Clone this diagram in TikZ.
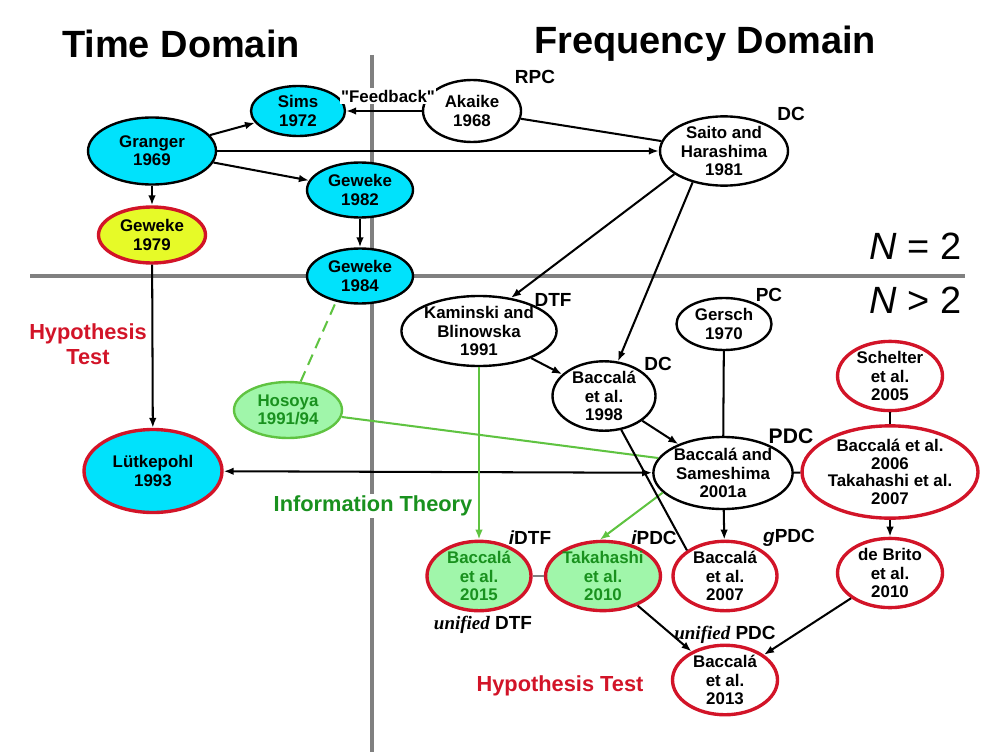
\documentclass[tikz,border=0pt]{standalone}
\usepackage{fontspec}
\setmainfont{Liberation Sans}
\newfontfamily\unifont{Liberation Serif}
\newfontfamily\plainfont{Liberation Sans}
\usetikzlibrary{arrows.meta,shapes.geometric}

\definecolor{tcyan}{RGB}{0,226,252}
\definecolor{tyellow}{RGB}{230,250,40}
\definecolor{hred}{RGB}{210,20,40}
\definecolor{igreen}{RGB}{160,246,170}
\definecolor{iline}{RGB}{95,195,65}
\definecolor{itext}{RGB}{25,145,30}
\definecolor{divgray}{RGB}{128,128,128}

\begin{document}
\begin{tikzpicture}[x=0.025cm, y=-0.025cm,
  ell/.style={ellipse, draw, line width=1.7pt, inner sep=0pt, align=center,
              font=\bfseries\fontsize{12}{13}\selectfont},
  sz/.style 2 args={minimum width=#1*0.025cm, minimum height=#2*0.025cm},
  tdom/.style={ell, fill=tcyan},
  hyp/.style={draw=hred, line width=2.4pt},
  info/.style={ell, fill=igreen, text=itext},
  lbl/.style={font=\bfseries\fontsize{13.5}{15}\selectfont, inner sep=1pt},
  hdr/.style={font=\bfseries\fontsize{27}{30}\selectfont},
  nlab/.style={font=\fontsize{27}{30}\selectfont, inner sep=0pt},
  redtxt/.style={font=\bfseries\fontsize{15.5}{18}\selectfont, text=hred, align=center},
  arr/.style={-{Latex[length=2.5mm,width=1.9mm]}, line width=1.45pt},
  biarr/.style={{Latex[length=2.5mm,width=1.9mm]}-{Latex[length=2.5mm,width=1.9mm]}, line width=1.45pt},
  garr/.style={arr, draw=iline},
  link/.style={line width=1.45pt},
  glink/.style={line width=1.45pt, draw=iline},
  divide/.style={line width=3pt, draw=divgray}
]
  \useasboundingbox (0,0) rectangle (1003,755);

  \coordinate (vtop) at (372,55);
  \coordinate (vbot) at (372,752);
  \coordinate (hleft) at (30,276);
  \coordinate (hright) at (965,276);
  \draw[divide] (vtop) -- (vbot);
  \draw[divide] (hleft) -- (hright);

  \node[hdr] (tdomain) at (181,44) {Time Domain};
  \node[hdr] (fdomain) at (705,44) {Frequency Domain};
  \node[nlab, anchor=east] (neq) at (962,246) {{\itshape N} = 2};
  \node[nlab, anchor=east] (ngt) at (962,300) {{\itshape N} > 2};

  \node[tdom, sz={128}{67}] (granger) at (152,151) {Granger\\1969};
  \node[tdom, sz={94}{50}] (sims) at (298,111) {Sims\\1972};
  \node[tdom, sz={106}{55}] (gew82) at (360,190) {Geweke\\1982};
  \node[ell, hyp, fill=tyellow, sz={107}{56}] (gew79) at (152,235) {Geweke\\1979};
  \node[tdom, sz={106}{55}] (gew84) at (360,276) {Geweke\\1984};
  \node[tdom, hyp, sz={138}{83}] (lutk) at (153,471) {Lütkepohl\\1993};
  \node[ell, draw=iline, fill=igreen, text=itext, sz={108}{56}] (hosoya) at (288,410) {Hosoya\\1991/94};

  \node[ell, sz={98}{62}] (akaike) at (472,111) {Akaike\\1968};
  \node[ell, sz={128}{68}] (saito) at (724,151) {Saito and\\Harashima\\1981};
  \node[ell, sz={116}{70}] (kam) at (479,331) {Kaminski and\\Blinowska\\1991};
  \node[ell, sz={95}{52}] (gersch) at (724,324) {Gersch\\1970};
  \node[ell, sz={103}{66}] (bac98) at (604,396) {Baccalá\\et al.\\1998};
  \node[ell, sz={113}{72}] (bs01) at (723,473) {Baccalá and\\Sameshima\\2001a};
  \node[ell, hyp, sz={105}{66}] (schelter) at (890,376) {Schelter\\et al.\\2005};
  \node[ell, hyp, sz={146}{86}, font=\bfseries\fontsize{12}{12.5}\selectfont] (bac06) at (890,472) {Baccalá et al.\\2006\\Takahashi et al.\\2007};
  \node[info, hyp, sz={104}{66}] (bac15) at (479,576) {Baccalá\\et al.\\2015};
  \node[info, hyp, sz={105}{66}] (tak10) at (603,576) {Takahashi\\et al.\\2010};
  \node[ell, hyp, sz={104}{64}] (bac07) at (725,576) {Baccalá\\et al.\\2007};
  \node[ell, hyp, sz={105}{64}] (brito) at (890,573) {de Brito\\et al.\\2010};
  \node[ell, hyp, sz={105}{66}] (bac13) at (725,680) {Baccalá\\et al.\\2013};

  \node[lbl, font=\plainfont\bfseries\fontsize{12}{13}\selectfont, fill=white] (feedback) at (388,96) {"Feedback"};
  \node[lbl] (rpc) at (535,77) {RPC};
  \node[lbl] (dc1) at (791,114) {DC};
  \node[lbl] (dtf) at (553,300) {DTF};
  \node[lbl] (dc2) at (658,364) {DC};
  \node[lbl] (pc) at (769,295) {PC};
  \node[lbl, font=\bfseries\fontsize{15}{17}\selectfont] (pdc) at (791,436) {PDC};
  \node[lbl] (idtf) at (530,538) {{\itshape i}DTF};
  \node[lbl] (ipdc) at (654,538) {{\itshape i}PDC};
  \node[lbl] (gpdc) at (789,538) {{\itshape g}PDC};
  \node[lbl] (udtf) at (483,625) {{\unifont\itshape unified} DTF};
  \node[lbl] (updc) at (725,635) {{\unifont\itshape unified} PDC};

  \node[redtxt] (hypleft) at (88,344) {Hypothesis\\Test};
  \node[redtxt] (hypbot) at (560,686) {Hypothesis Test};
  \node[redtxt, text=itext, fill=white, inner sep=1pt] (infoth) at (373,506) {Information Theory};

  \draw[arr] (granger) -- (sims);
  \draw[arr] (akaike) -- (sims);
  \draw[link] (akaike) -- (saito);
  \draw[arr] (granger) -- (saito);
  \draw[arr] (granger) -- (gew82);
  \draw[arr] (granger) -- (gew79);
  \draw[arr] (gew82) -- (gew84);
  \draw[arr] (gew79) -- (lutk);
  \draw[glink, dash pattern=on 8pt off 5pt] (hosoya.66) -- (gew84.227);
  \draw[arr] (saito.205) -- (kam.46);
  \draw[arr] (saito.225) -- (bac98.68);
  \draw[arr] (kam) -- (bac98);
  \draw[arr] (bac98) -- (bs01);
  \draw[link] (gersch) -- (bs01);
  \draw[link] (schelter) -- (bac06);
  \draw[biarr] (lutk) -- (bs01);
  \draw[link] (bs01) -- (bac06);
  \draw[glink] (hosoya) -- (bs01.167);
  \draw[garr] (kam) -- (bac15);
  \draw[garr] (bs01.198) -- (tak10.95);
  \draw[link] (bac98.-63) -- (bac07.146);
  \draw[arr] (bs01) -- (bac07);
  \draw[arr] (bac06) -- (brito);
  \draw[link, draw=divgray] (bac15) -- (tak10);
  \draw[arr] (tak10) -- (bac13);
  \draw[arr] (brito) -- (bac13);
\end{tikzpicture}
\end{document}
